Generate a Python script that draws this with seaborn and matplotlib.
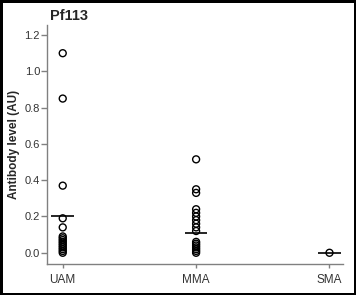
import seaborn as sns
import matplotlib.pyplot as plt
import pandas as pd
import matplotlib
matplotlib.use('Agg')

# values
groups = ["UAM", "MMA", "SMA"]
uam = [1.10, 0.85, 0.37, 0.19, 0.14, 0.09, 0.08, 0.07, 0.06, 0.05, 0.04, 0.03, 0.02, 0.01, 0.0]
mma = [0.515, 0.35, 0.33, 0.24, 0.22, 0.20, 0.18, 0.16, 0.14, 0.12,
       0.06, 0.05, 0.04, 0.03, 0.02, 0.01, 0.0]
sma = [0.0]
means = [0.205, 0.107, 0.0]
yticks = [0.0, 0.2, 0.4, 0.6, 0.8, 1.0, 1.2]

df = pd.DataFrame({
    "group": ["UAM"] * len(uam) + ["MMA"] * len(mma) + ["SMA"] * len(sma),
    "level": uam + mma + sma,
})

sns.set_theme(style="white")
plt.rcParams['font.family'] = ['Liberation Sans', 'DejaVu Sans']

fig = plt.figure(figsize=(3.56, 2.95), dpi=100)
fig.patch.set_edgecolor('black')
fig.patch.set_linewidth(2.5)
ax = fig.add_axes([0.132, 0.105, 0.831, 0.81])

sns.stripplot(data=df, x="group", y="level", order=groups, jitter=False,
              color="white", edgecolor="black", linewidth=1, size=5, ax=ax)
for c in ax.collections:
    c.set_facecolor('none')

for i, m in enumerate(means):
    ax.hlines(m, i - 0.085, i + 0.085, color="black", linewidth=1.2)

ax.set_xlim(-0.118, 2.1)
ax.set_ylim(-0.062, 1.255)
ax.set_yticks(yticks)
ax.set_yticklabels([f"{t:.1f}" for t in yticks])
ax.set_xlabel("")
ax.set_ylabel("Antibody level (AU)", fontsize=8.5, fontweight='bold', labelpad=3)
ax.set_title("Pf113", fontsize=10.5, fontweight='bold', loc='left', x=0.01, pad=4)

for s in ['top', 'right']:
    ax.spines[s].set_visible(False)
for s in ['left', 'bottom']:
    ax.spines[s].set_color('#808080')
    ax.spines[s].set_linewidth(1)
ax.tick_params(axis='y', left=True, length=4, width=1, color='#808080',
               labelsize=8, labelcolor='#333333', pad=1)
ax.tick_params(axis='x', bottom=True, length=3, width=1, color='#808080',
               labelsize=8.5, labelcolor='#333333', pad=4)

fig.savefig('out.png', dpi=100, edgecolor=fig.get_edgecolor())
